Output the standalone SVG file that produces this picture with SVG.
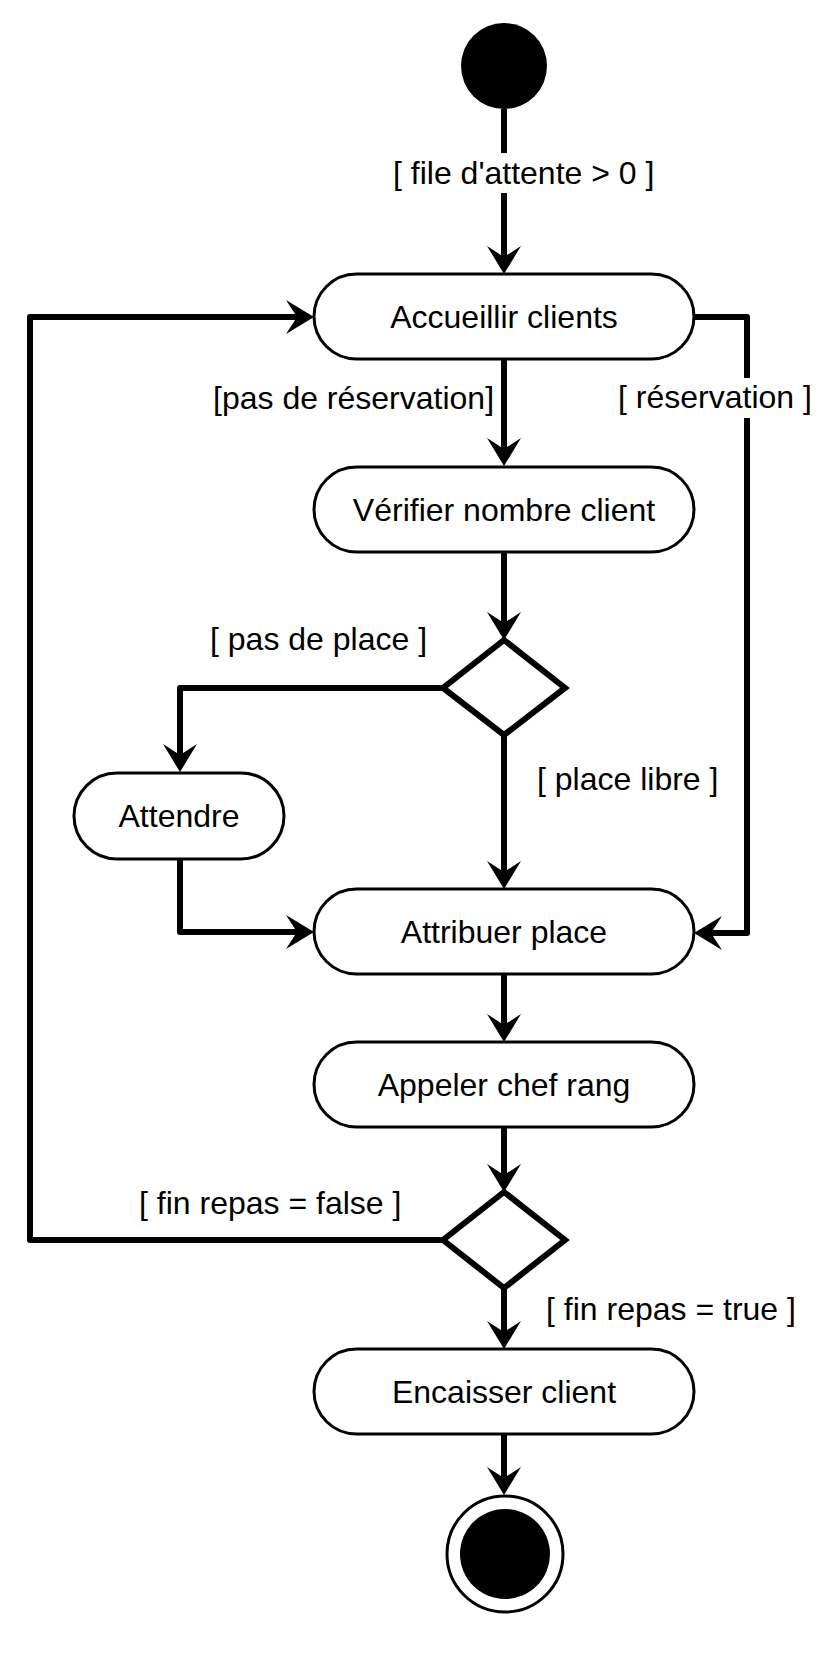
<svg xmlns="http://www.w3.org/2000/svg" width="838" height="1658" viewBox="0 0 838 1658">
<style>
.bg{fill:#ffffff}
.act{fill:#ffffff;stroke:#000;stroke-width:3}
.dec{fill:#ffffff;stroke:#000;stroke-width:6;stroke-linejoin:miter}
.edge{fill:none;stroke:#000;stroke-width:6;stroke-linejoin:round;marker-end:url(#arr)}
.t{font-family:"Liberation Sans",Arial,Helvetica,sans-serif;font-size:32px;fill:#000}
.c{text-anchor:middle}
</style>
<defs>
<marker id="arr" markerUnits="userSpaceOnUse" markerWidth="40" markerHeight="40" refX="0" refY="0" orient="auto" overflow="visible">
<path d="M10,0 L-18,-17 L-7,0 L-18,17 Z" fill="#000"/>
</marker>
</defs>
<rect class="bg" x="0" y="0" width="838" height="1658"/>

<g id="connectors">
<path class="edge" d="M504,109 L504,264"/>
<path class="edge" d="M504,358 L504,456"/>
<path class="edge" d="M694,317 L747,317 L747,933 L704,933"/>
<path class="edge" d="M504,552 L504,630"/>
<path class="edge" d="M443,688 L180,688 L180,762"/>
<path class="edge" d="M504,735 L504,879"/>
<path class="edge" d="M180,859 L180,932 L304,932"/>
<path class="edge" d="M504,974 L504,1032"/>
<path class="edge" d="M504,1127 L504,1182"/>
<path class="edge" d="M443,1240 L30,1240 L30,317 L304,317"/>
<path class="edge" d="M504,1288 L504,1339"/>
<path class="edge" d="M504,1434 L504,1485"/>
</g>

<g id="edge-labels">
<rect class="bg" x="390" y="153" width="265" height="40"/>
<text class="t" x="393" y="184">[ file d'attente &gt; 0 ]</text>
<text class="t" x="213" y="409">[pas de réservation]</text>
<rect class="bg" x="615" y="378" width="196" height="40"/>
<text class="t" x="618" y="408">[ réservation ]</text>
<text class="t" x="210" y="650">[ pas de place ]</text>
<text class="t" x="537" y="790">[ place libre ]</text>
<text class="t" x="139" y="1214">[ fin repas = false ]</text>
<text class="t" x="546" y="1320">[ fin repas = true ]</text>
</g>

<g id="start">
<circle cx="504" cy="66" r="43" fill="#000"/>
</g>

<g id="accueillir">
<rect class="act" x="314" y="274" width="380" height="85" rx="42.5" ry="42.5"/>
<text class="t c" x="504" y="328">Accueillir clients</text>
</g>

<g id="verifier">
<rect class="act" x="314" y="467" width="380" height="85" rx="42.5" ry="42.5"/>
<text class="t c" x="504" y="521">Vérifier nombre client</text>
</g>

<g id="decision1">
<polygon class="dec" points="504,640 565,688 504,735 443,688"/>
</g>

<g id="attendre">
<rect class="act" x="74" y="773" width="210" height="86" rx="43" ry="43"/>
<text class="t c" x="179" y="827">Attendre</text>
</g>

<g id="attribuer">
<rect class="act" x="314" y="889" width="380" height="85" rx="42.5" ry="42.5"/>
<text class="t c" x="504" y="943">Attribuer place</text>
</g>

<g id="appeler">
<rect class="act" x="314" y="1042" width="380" height="85" rx="42.5" ry="42.5"/>
<text class="t c" x="504" y="1096">Appeler chef rang</text>
</g>

<g id="decision2">
<polygon class="dec" points="504,1192 565,1240 504,1288 443,1240"/>
</g>

<g id="encaisser">
<rect class="act" x="314" y="1349" width="380" height="85" rx="42.5" ry="42.5"/>
<text class="t c" x="504" y="1403">Encaisser client</text>
</g>

<g id="end">
<circle cx="505" cy="1554" r="58" fill="#fff" stroke="#000" stroke-width="3"/>
<circle cx="505" cy="1554" r="45" fill="#000"/>
</g>
</svg>
